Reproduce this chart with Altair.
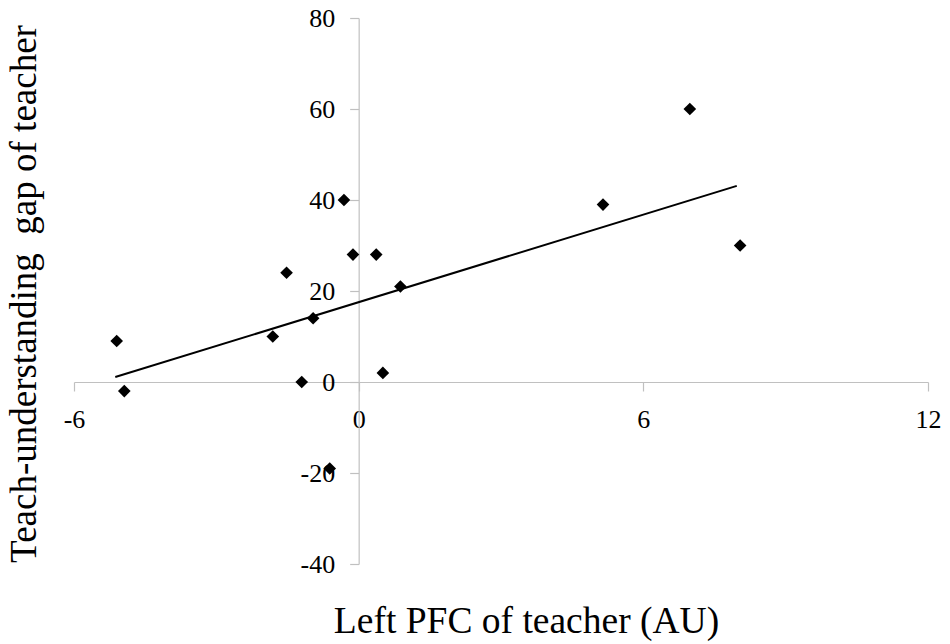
import altair as alt
import pandas as pd

# Scatter data
x_vals = [-5.10, -4.94, -1.81, -1.52, -1.20, -0.96, -0.61, -0.31, -0.12, 0.37, 0.51, 0.88, 5.15, 6.98, 8.04]
y_vals = [9, -2, 10, 24, 0, 14, -19, 40, 28, 28, 2, 21, 39, 60, 30]

# Linear trend line end points (as drawn)
trend_x = [-5.13, 7.97]
trend_y = [1.1, 43.1]

x_ticks = [-6, 0, 6, 12]
y_ticks = [-40, -20, 0, 20, 40, 60, 80]

x_title = "Left PFC of teacher (AU)"
y_title = "Teach-understanding\u00a0 gap of teacher"

W, H = 854, 546
FONT = "Liberation Serif"

pts = pd.DataFrame({"x": x_vals, "y": y_vals})
trend = pd.DataFrame({"x": trend_x, "y": trend_y})

x_scale = alt.Scale(domain=[-6, 12], nice=False, zero=False)
y_scale = alt.Scale(domain=[-40, 80], nice=False, zero=False)

label_expr = "'' + datum.value"

x_axis = alt.Axis(
    values=x_ticks, grid=False, offset=-H / 3,
    domainColor="#c0c0c0", tickColor="#c0c0c0", domainWidth=1.2, tickWidth=1.2,
    tickSize=9, labelPadding=15, labelFont=FONT, labelFontSize=26, labelColor="#000",
    labelFlush=False, labelOverlap=False, labelExpr=label_expr,
    title=x_title, titleFont=FONT, titleFontSize=37.5, titleFontWeight="normal", titleColor="#000",
    titleX=452, titleY=250, titleAlign="center", titleBaseline="alphabetic", titleAnchor="middle",
)
y_axis = alt.Axis(
    values=y_ticks, grid=False, offset=-W * 6 / 18,
    domainColor="#c0c0c0", tickColor="#c0c0c0", domainWidth=1.2, tickWidth=1.2,
    tickSize=9, labelPadding=15, labelFont=FONT, labelFontSize=26, labelColor="#000",
    labelOverlap=False, labelExpr=label_expr,
    title=y_title, titleFont=FONT, titleFontSize=37, titleFontWeight="normal", titleColor="#000",
    titleAngle=270, titleX=-322.7, titleY=275.5, titleAlign="center", titleBaseline="alphabetic",
)

points = alt.Chart(pts).mark_point(shape="diamond", filled=True, color="#000", size=160, opacity=1).encode(
    x=alt.X("x:Q", scale=x_scale, axis=x_axis),
    y=alt.Y("y:Q", scale=y_scale, axis=y_axis),
)

line = alt.Chart(trend).mark_line(color="#000", strokeWidth=2).encode(
    x=alt.X("x:Q", scale=x_scale),
    y=alt.Y("y:Q", scale=y_scale),
)

chart = alt.layer(line, points).properties(
    width=W, height=H,
    autosize=alt.AutoSizeParams(type="none"),
    padding={"left": 66, "top": 10, "right": 14, "bottom": 80},
    background="white",
).configure_view(stroke=None).configure_axis(labelFont=FONT, titleFont=FONT)

chart.save("out.html", embed_options={"renderer": "svg", "actions": False})
